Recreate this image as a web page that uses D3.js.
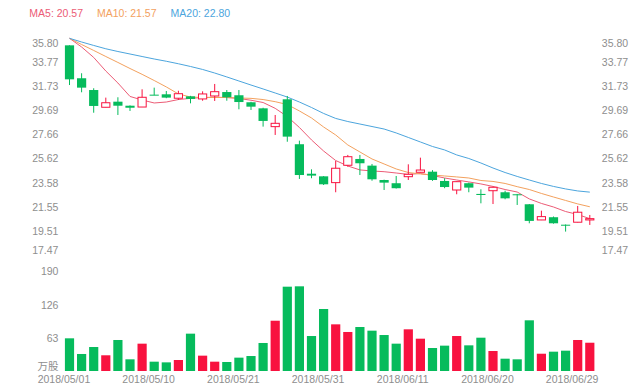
<!DOCTYPE html>
<html>
<head>
<meta charset="utf-8">
<script src="https://cdn.jsdelivr.net/npm/d3@7"></script>
<style>
  body { margin: 0; background: #fff; }
  text { font-family: "Liberation Sans", Arial, "Noto Sans CJK SC", sans-serif; }
</style>
</head>
<body>
<svg id="Target" width="640" height="390"></svg>
<script>
// trading days shown on the category axis
const dates = [
  "2018/05/01", "2018/05/02", "2018/05/03", "2018/05/04", "2018/05/07", "2018/05/08", "2018/05/09",
  "2018/05/10", "2018/05/11", "2018/05/14", "2018/05/15", "2018/05/16", "2018/05/17", "2018/05/18",
  "2018/05/21", "2018/05/22", "2018/05/23", "2018/05/24", "2018/05/25", "2018/05/28", "2018/05/30",
  "2018/05/31", "2018/06/01", "2018/06/04", "2018/06/05", "2018/06/06", "2018/06/07", "2018/06/08",
  "2018/06/11", "2018/06/12", "2018/06/13", "2018/06/14", "2018/06/15", "2018/06/18", "2018/06/19",
  "2018/06/20", "2018/06/21", "2018/06/22", "2018/06/25", "2018/06/26", "2018/06/27", "2018/06/28",
  "2018/06/29", "2018/07/02"
];

const open = [35.15, 32.38, 31.39, 29.94, 30.41, 30.07, 29.96, 31.00, 31.03, 30.70, 30.86, 30.64, 30.89, 31.22, 30.95,
  30.36, 29.85, 28.31, 30.61, 26.83, 24.35, 24.13, 23.60, 25.06, 25.59, 25.03, 23.82, 23.55, 24.10, 24.47,
  24.52, 23.74, 22.98, 23.55, 22.65, 22.92, 22.79, 22.62, 21.78, 20.46, 20.69, 20.06, 20.27, 20.46];
const close = [32.29, 31.59, 30.05, 30.32, 30.07, 29.90, 30.78, 30.95, 30.75, 31.08, 30.64, 31.06, 31.25, 30.78, 30.38,
  29.99, 28.79, 28.59, 27.47, 24.24, 24.19, 23.46, 24.81, 25.78, 25.23, 23.88, 23.60, 23.13, 24.30, 24.66,
  23.82, 23.23, 23.68, 23.18, 22.56, 23.21, 22.28, 22.54, 20.38, 20.74, 20.18, 19.98, 21.11, 20.57];
const high = [35.15, 32.80, 31.54, 30.75, 30.78, 30.10, 31.45, 31.59, 31.31, 31.33, 30.90, 31.28, 31.90, 31.39, 31.39,
  30.40, 29.90, 29.29, 30.89, 27.13, 24.72, 24.15, 25.42, 25.93, 25.93, 25.17, 23.85, 24.16, 25.14, 25.70,
  24.65, 23.97, 23.70, 23.60, 23.04, 23.25, 22.92, 22.65, 21.80, 21.24, 20.75, 20.08, 21.64, 20.88];
const low = [31.81, 31.20, 29.48, 29.94, 29.29, 29.63, 29.96, 30.95, 30.70, 30.55, 30.27, 30.49, 30.47, 30.49, 29.77,
  29.71, 28.31, 27.61, 27.04, 23.91, 23.97, 23.40, 22.79, 24.94, 24.24, 23.76, 22.98, 23.10, 23.82, 24.45,
  23.75, 23.13, 22.62, 22.79, 21.86, 21.80, 22.20, 21.72, 20.18, 20.45, 20.15, 19.48, 20.25, 20.04];

// volume in 万股
const volume = [62.4, 32.5, 45.8, 30.0, 59.2, 22.3, 52.2, 17.8, 16.5, 21.0, 71.3, 29.3, 17.8, 17.2, 25.5,
  28.6, 53.5, 96.0, 161.0, 161.7, 66.8, 118.4, 89.1, 74.5, 84.0, 77.0, 68.7, 52.2, 79.6, 61.7,
  43.9, 48.4, 66.8, 49.0, 63.6, 38.2, 23.5, 22.3, 96.8, 33.0, 36.9, 38.8, 59.2, 54.0];

// moving averages as drawn
const ma5 = [35.74, 35.01, 34.13, 32.99, 31.98, 30.85, 30.55, 30.30, 30.38, 30.59, 30.69, 30.76, 30.78, 30.76, 30.68,
  30.53, 30.34, 29.85, 29.16, 28.24, 27.19, 26.26, 25.46, 25.00, 24.67, 24.58, 24.52, 24.41, 24.29, 24.37,
  24.20, 23.99, 23.82, 23.66, 23.49, 23.28, 23.02, 22.81, 22.23, 21.85, 21.55, 21.17, 20.92, 20.57];
const ma10 = [35.74, 35.22, 34.72, 34.21, 33.71, 33.20, 32.71, 32.19, 31.65, 31.06, 30.80, 30.76, 30.76, 30.76, 30.72,
  30.69, 30.59, 30.41, 30.17, 29.63, 29.04, 28.28, 27.61, 26.77, 26.18, 25.59, 25.17, 24.75, 24.45, 24.33,
  24.24, 24.16, 24.08, 23.99, 23.78, 23.70, 23.53, 23.26, 23.02, 22.69, 22.39, 22.10, 21.81, 21.57];
const ma20 = [35.74, 35.43, 35.14, 34.86, 34.63, 34.42, 34.21, 34.00, 33.81, 33.60, 33.37, 33.12, 32.82, 32.49, 32.15,
  31.81, 31.48, 31.14, 30.80, 30.38, 29.92, 29.42, 29.00, 28.74, 28.53, 28.32, 28.11, 27.78, 27.40, 27.02,
  26.64, 26.35, 25.93, 25.63, 25.25, 24.83, 24.45, 24.12, 23.82, 23.53, 23.28, 23.07, 22.90, 22.80];

const priceTicks = [17.47, 19.51, 21.55, 23.58, 25.62, 27.66, 29.69, 31.73, 33.77, 35.80];
const volumeTicks = [0, 63, 126, 190];
const maNames = ["MA5", "MA10", "MA20"];
const maColors = ["#ec5c76", "#f3a15e", "#4ca5dd"];

const red = "#f8123f";
const green = "#06bb5c";
const labelColor = "#8e8e8e";

const svg = d3.select("#Target");
const idx = d3.range(dates.length);

const x = d3.scaleBand().domain(idx).range([63.45, 595.85]);
const bodyW = x.bandwidth() * 0.76;
const cx = i => x(i) + x.bandwidth() / 2;

const y = d3.scaleLinear().domain([priceTicks[0], priceTicks[priceTicks.length - 1]]).range([255.5, 37.6]);
const yv = d3.scaleLinear().domain([0, 190]).range([371, 271.5]);

const up = i => close[i] >= open[i];

// axes: labels only
const styleAxis = g => {
  g.select(".domain").remove();
  g.selectAll("text").attr("fill", labelColor).style("font-size", "10.5px");
};

const leftPrice = svg.append("g")
  .attr("transform", "translate(63.45,0)")
  .call(d3.axisLeft(y).tickValues(priceTicks).tickSize(0).tickPadding(5).tickFormat(d3.format(".2f")))
  .call(styleAxis);
const rightPrice = svg.append("g")
  .attr("transform", "translate(595.85,0)")
  .call(d3.axisRight(y).tickValues(priceTicks).tickSize(0).tickPadding(6).tickFormat(d3.format(".2f")))
  .call(styleAxis);
// end labels pulled inside the grid
[leftPrice, rightPrice].forEach(g => {
  g.selectAll(".tick text")
    .attr("y", d => d === priceTicks[0] ? -5.5 : d === priceTicks[priceTicks.length - 1] ? 5.7 : 0);
});

svg.append("g")
  .attr("transform", "translate(63.45,0)")
  .call(d3.axisLeft(yv).tickValues(volumeTicks).tickSize(0).tickPadding(5).tickFormat(d => d === 0 ? "万股" : d))
  .call(styleAxis)
  .selectAll(".tick text")
  .attr("y", d => d === 0 ? -5 : 0);

const xl = d3.scaleLinear().domain([0, dates.length]).range(x.range());
svg.append("g")
  .attr("transform", "translate(0,371)")
  .call(d3.axisBottom(xl).tickValues(idx.filter(i => i % 7 === 0)).tickSize(0).tickPadding(5).tickFormat(i => dates[i]))
  .call(styleAxis);

// volume bars
svg.append("g")
  .selectAll("rect")
  .data(idx)
  .enter()
  .append("rect")
  .attr("x", i => cx(i) - bodyW / 2)
  .attr("width", bodyW)
  .attr("y", i => yv(volume[i]))
  .attr("height", i => yv(0) - yv(volume[i]))
  .attr("fill", i => up(i) ? red : green);

// moving average lines
const maData = [ma5, ma10, ma20];
const line = d3.line().x((d, i) => cx(i)).y(d => y(d));
svg.append("g")
  .selectAll("path")
  .data(maData)
  .enter()
  .append("path")
  .attr("d", d => line(d))
  .attr("fill", "none")
  .attr("stroke", (d, k) => maColors[k])
  .attr("stroke-width", 1);

// candles
const candle = svg.append("g")
  .selectAll("g")
  .data(idx)
  .enter()
  .append("g");

candle.append("line")
  .attr("x1", i => cx(i))
  .attr("x2", i => cx(i))
  .attr("y1", i => y(high[i]))
  .attr("y2", i => y(low[i]))
  .attr("stroke", i => up(i) ? red : green)
  .attr("stroke-width", 1);

candle.append("rect")
  .attr("x", i => cx(i) - bodyW / 2 + (up(i) ? 0.5 : 0))
  .attr("width", i => up(i) ? bodyW - 1 : bodyW)
  .attr("y", i => y(Math.max(open[i], close[i])))
  .attr("height", i => Math.max(1, Math.abs(y(open[i]) - y(close[i]))))
  .attr("fill", i => up(i) ? "#fff" : green)
  .attr("stroke", i => up(i) ? red : "none")
  .attr("stroke-width", 1);

// legend: name and last value
const legend = svg.append("g");
let lx = 29.3;
maNames.forEach((name, k) => {
  const t = legend.append("text")
    .attr("x", lx)
    .attr("y", 17)
    .attr("fill", maColors[k])
    .style("font-size", "10.5px")
    .text(name + ": " + maData[k][maData[k].length - 1].toFixed(2));
  lx += t.node().getComputedTextLength() + 14;
});
</script>
</body>
</html>
